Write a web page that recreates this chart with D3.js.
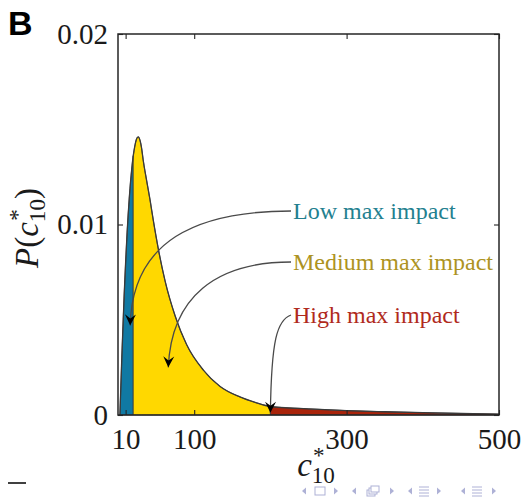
<!DOCTYPE html>
<html>
<head>
<meta charset="utf-8">
<script src="https://cdn.jsdelivr.net/npm/d3@7"></script>
<style>
  html, body { margin: 0; padding: 0; background: #fff; }
  svg { display: block; }
</style>
</head>
<body>
<svg id="chart" width="523" height="499"></svg>
<script>
// Density of c*_10 sampled along the x axis
const cValues = [2.5, 5, 8, 10, 12, 15, 18, 20, 22, 24, 26.5, 29, 31, 33, 37.6, 42, 46.4, 53, 62, 75, 90, 112, 134, 160, 180, 200, 250, 300, 350, 400, 450, 500];
const pValues = [0, 0.0030, 0.0062, 0.0080, 0.0096, 0.0115, 0.0129, 0.0136, 0.0141, 0.01445, 0.0146, 0.0144, 0.0140, 0.0134, 0.0123, 0.0113, 0.0102, 0.0087, 0.0070, 0.0052, 0.0037, 0.00236, 0.0015, 0.00095, 0.00066, 0.00044, 0.00032, 0.00023, 0.00017, 0.00012, 0.00008, 0.00005];

// Impact classes: range of c*_10 for each shaded band
const bandNames = ["Low max impact", "Medium max impact", "High max impact"];
const bandStarts = [2.5, 20, 200];
const bandEnds = [20, 200, 500];
const bandFill = ["#1079a3", "#ffd800", "#a9240b"];
const bandText = ["#23808f", "#ad9322", "#b02a1c"];

// Axis ticks
const xTicks = [10, 100, 300, 500];
const yTicks = [0, 0.01, 0.02];
const yTickLabels = ["0", "0.01", "0.02"];

const svg = d3.select("#chart");
const plotLeft = 118, plotRight = 499, plotTop = 34, plotBottom = 415;
const serif = "'Liberation Serif', 'DejaVu Serif', serif";

const x = d3.scaleLinear().domain([0, 500]).range([plotLeft, plotRight]);
const y = d3.scaleLinear().domain([0, 0.02]).range([plotBottom, plotTop]);

const points = cValues.map((c, i) => ({ c, p: pValues[i] }));

const area = d3.area()
  .x(d => x(d.c)).y0(y(0)).y1(d => y(d.p))
  .curve(d3.curveMonotoneX);
const line = d3.line()
  .x(d => x(d.c)).y(d => y(d.p))
  .curve(d3.curveMonotoneX);

// shaded bands
bandNames.forEach((name, i) => {
  const seg = points.filter(d => d.c >= bandStarts[i] && d.c <= bandEnds[i]);
  svg.append("path")
    .datum(seg)
    .attr("d", area)
    .attr("fill", bandFill[i])
    .attr("stroke", "#3a3a3a")
    .attr("stroke-width", 0.8)
    .attr("stroke-linejoin", "round");
});

// density outline
svg.append("path")
  .datum(points)
  .attr("d", line)
  .attr("fill", "none")
  .attr("stroke", "#3a3a3a")
  .attr("stroke-width", 1.3);

// axes box with inward ticks on all sides
const axisColor = "#262626";
const tickLen = 5;
const axes = svg.append("g");
axes.append("rect")
  .attr("x", plotLeft).attr("y", plotTop)
  .attr("width", plotRight - plotLeft).attr("height", plotBottom - plotTop)
  .attr("fill", "none").attr("stroke", axisColor).attr("stroke-width", 1.5);

const axisBottom = d3.axisBottom(x).tickValues(xTicks).tickSize(-tickLen).tickPadding(13).tickFormat(d3.format("d"));
const axisTop = d3.axisTop(x).tickValues(xTicks).tickSize(-tickLen).tickFormat("");
const axisLeft = d3.axisLeft(y).tickValues(yTicks).tickSize(-tickLen).tickPadding(10).tickFormat((d, i) => yTickLabels[i]);
const axisRight = d3.axisRight(y).tickValues(yTicks).tickSize(-tickLen).tickFormat("");

function styleAxis(g) {
  g.select(".domain").remove();
  g.selectAll(".tick line").attr("stroke", axisColor).attr("stroke-width", 1.1);
  g.selectAll(".tick text")
    .attr("fill", "#1a1a1a")
    .style("font-family", serif)
    .style("font-size", "29px");
}
axes.append("g").attr("transform", `translate(0,${plotBottom})`).call(axisBottom).call(styleAxis);
axes.append("g").attr("transform", `translate(0,${plotTop})`).call(axisTop).call(styleAxis);
axes.append("g").attr("transform", `translate(${plotLeft},0)`).call(axisLeft).call(styleAxis);
axes.append("g").attr("transform", `translate(${plotRight},0)`).call(axisRight).call(styleAxis);

// width of a string at a given size, for stacking sub/superscripts
function textWidth(str, size) {
  const t = svg.append("text").text(str).style("font-family", serif).style("font-size", size + "px");
  const w = t.node().getComputedTextLength();
  t.remove();
  return w;
}

// math-style label as one text element: base, then * over 10
function mathLabel(g, before, after, size) {
  const small = size * 0.7;
  const up = size * 0.38, down = size * 0.22;
  const starW = textWidth("*", small);
  const tenW = textWidth("10", small);
  const t = g.append("text")
    .attr("text-anchor", "middle")
    .attr("fill", "#1a1a1a")
    .style("font-family", serif)
    .style("font-size", size + "px");
  before.forEach(p => t.append("tspan").text(p.text).style("font-style", p.italic ? "italic" : "normal"));
  t.append("tspan").text("*").style("font-size", small + "px").attr("dx", size * 0.04).attr("dy", -up);
  t.append("tspan").text("10").style("font-size", small + "px").attr("dx", -starW - size * 0.04).attr("dy", up + down);
  after.forEach((p, i) => t.append("tspan").text(p.text)
    .style("font-style", p.italic ? "italic" : "normal")
    .attr("dy", i === 0 ? -down : 0));
  return t;
}

// y label P(c*_10)
const yLab = svg.append("g").attr("transform", "translate(38,228) rotate(-90)");
mathLabel(yLab, [{ text: "P", italic: true }, { text: "(" }, { text: "c", italic: true }], [{ text: ")" }], 33);

// x label c*_10
const xLab = svg.append("g").attr("transform", "translate(316,476)");
mathLabel(xLab, [{ text: "c", italic: true }], [], 33);

// panel letter
svg.append("text")
  .attr("x", 8).attr("y", 35)
  .text("B")
  .style("font-family", "'Liberation Sans', Arial, sans-serif")
  .style("font-weight", "bold")
  .style("font-size", "34px")
  .attr("fill", "#000");

// arrowhead
svg.append("defs").append("marker")
  .attr("id", "head")
  .attr("viewBox", "-12 -6 13 12")
  .attr("refX", 0).attr("refY", 0)
  .attr("markerWidth", 13).attr("markerHeight", 12)
  .attr("markerUnits", "userSpaceOnUse")
  .attr("orient", "auto")
  .append("path")
  .attr("d", "M0,0 L-11,-5.5 L-7,0 L-11,5.5 Z")
  .attr("fill", "#000");

// annotations: label position and the point of the band each arrow targets
const labelX = 293;
const labelY = [219, 270, 323];
const targetC = [16, 66, 200];
const targetP = [0.0047, 0.0025, 0.00012];
const arrowPaths = [
  (sx, sy, tx, ty) => `M${sx},${sy} C${sx - 95},${sy} ${tx + 2},${sy + 30} ${tx},${ty}`,
  (sx, sy, tx, ty) => `M${sx},${sy} C${sx - 75},${sy} ${tx + 3},${sy + 35} ${tx},${ty}`,
  (sx, sy, tx, ty) => `M${sx},${sy} C${sx - 14},${sy + 5} ${tx + 1},${sy + 25} ${tx},${ty}`
];
bandNames.forEach((name, i) => {
  const sx = labelX - 2, sy = labelY[i] - 8;
  svg.append("path")
    .attr("d", arrowPaths[i](sx, sy, x(targetC[i]), y(targetP[i])))
    .attr("fill", "none")
    .attr("stroke", "#4a4a4a")
    .attr("stroke-width", 1.3)
    .attr("marker-end", "url(#head)");
  svg.append("text")
    .attr("x", labelX).attr("y", labelY[i])
    .text(name)
    .attr("fill", bandText[i])
    .style("font-family", serif)
    .style("font-size", "24px");
});

// footer dash
svg.append("line")
  .attr("x1", 8).attr("x2", 26).attr("y1", 483).attr("y2", 483)
  .attr("stroke", "#000").attr("stroke-width", 1.5);

// navigation symbols
const navColor = "#aeb1d6";
const nav = svg.append("g").attr("fill", navColor).attr("stroke", navColor);
const navY = 491;
const navGroups = [
  { l: 302, icon: 320, r: 338, kind: "frame" },
  { l: 352, icon: 372, r: 394, kind: "stack" },
  { l: 408, icon: 424, r: 441, kind: "lines" },
  { l: 461, icon: 477, r: 496, kind: "lines" }
];
navGroups.forEach(gp => {
  nav.append("path").attr("d", `M${gp.l},${navY} l4,-3.5 v7 Z`).attr("stroke", "none");
  nav.append("path").attr("d", `M${gp.r},${navY} l-4,-3.5 v7 Z`).attr("stroke", "none");
  if (gp.kind === "frame") {
    nav.append("rect").attr("x", gp.icon - 5).attr("y", navY - 4).attr("width", 10).attr("height", 8)
      .attr("fill", "none").attr("stroke-width", 1);
  } else if (gp.kind === "stack") {
    [0, 2, 4].forEach(o => {
      nav.append("rect").attr("x", gp.icon - 5 + o).attr("y", navY - 1 - o).attr("width", 8).attr("height", 6)
        .attr("fill", "#fff").attr("stroke-width", 1);
    });
  } else {
    [-4, -1, 2, 5].forEach(o => {
      nav.append("line").attr("x1", gp.icon - 5).attr("x2", gp.icon + 5)
        .attr("y1", navY + o).attr("y2", navY + o).attr("stroke-width", 1);
    });
  }
});
</script>
</body>
</html>
